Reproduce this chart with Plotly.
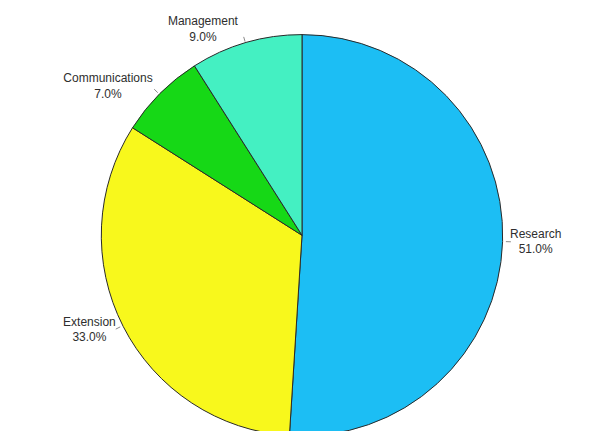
import math
import plotly.graph_objects as go

categories = ["Research", "Extension", "Communications", "Management"]
shares = [51.0, 33.0, 7.0, 9.0]
slice_colors = ["#1cbef4", "#f8f81c", "#16d816", "#44f0c2"]

W, H = 599, 441  # figure runs a little past the bottom of the view, clipping the pie
cx, cy, r = 302, 238, 203  # pie centre (px from left/top) and radius
leader_len = 6  # px length of the label leader ticks

fig = go.Figure(
    go.Pie(
        labels=categories,
        values=shares,
        sort=False,
        direction="clockwise",
        rotation=0,
        marker=dict(colors=slice_colors, line=dict(color="#2a2a2a", width=1)),
        texttemplate="%{label}<br>%{value:.1f}%",
        textposition="outside",
        outsidetextfont=dict(family="Liberation Sans, Arial, sans-serif", size=12, color="#2e2e2e"),
        showlegend=False,
        hoverinfo="label+percent",
        domain=dict(
            x=[(cx - r) / W, (cx + r) / W],
            y=[max(0.0, (H - cy - r) / H), (H - cy + r) / H],
        ),
    )
)

# short radial leader ticks at each slice's mid-angle (clockwise from 12 o'clock)
total = sum(shares)
start = 0.0
for v in shares:
    mid = (start + v / 2) / total * 2 * math.pi
    start += v
    s, c = math.sin(mid), math.cos(mid)
    x0, y0 = cx + (r + 1) * s, cy - (r + 1) * c
    x1, y1 = cx + (r + leader_len) * s, cy - (r + leader_len) * c
    fig.add_shape(
        type="line",
        xref="paper", yref="paper",
        x0=x0 / W, y0=1 - y0 / H, x1=x1 / W, y1=1 - y1 / H,
        line=dict(color="#8a8a8a", width=1),
    )

fig.update_layout(
    width=W,
    height=H,
    margin=dict(l=0, r=0, t=0, b=0),
    paper_bgcolor="white",
    plot_bgcolor="white",
)

fig.write_html(
    "out.html",
    post_script="document.documentElement.style.overflow='hidden';document.body.style.overflow='hidden';",
)
